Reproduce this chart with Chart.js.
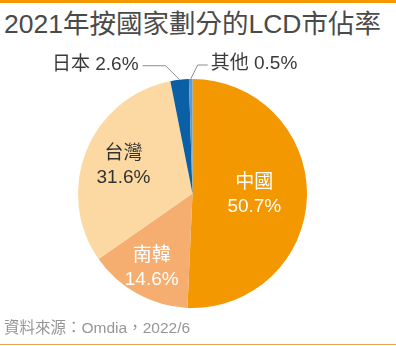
<!DOCTYPE html>
<html>
<head>
<meta charset="utf-8">
<script src="https://cdn.jsdelivr.net/npm/chart.js@4/dist/chart.umd.min.js"></script>
<style>
  html, body { margin: 0; padding: 0; background: #fff; }
  .frame {
    position: relative; width: 396px; height: 346px; overflow: hidden;
    font-family: "Liberation Sans", "Noto Sans CJK TC", sans-serif;
  }
  .topbar { position: absolute; left: 0; top: 0; width: 396px; height: 3px; background: #f39800; }
  .bottombar { position: absolute; left: 0; top: 344px; width: 396px; height: 1px; background: #eba34d; }
  .title {
    position: absolute; left: 4px; top: 11px; margin: 0;
    font-size: 26.5px; line-height: 26px; font-weight: normal; color: #4a4a4a; white-space: nowrap;
  }
  .source {
    position: absolute; left: 4px; top: 320px; margin: 0;
    font-size: 15.5px; line-height: 15px; color: #969696; white-space: nowrap;
  }
  canvas { position: absolute; left: 0; top: 0; }
</style>
</head>
<body>
<div class="frame">
  <div class="topbar"></div>
  <h1 class="title">2021年按國家劃分的LCD市佔率</h1>
  <canvas id="pie" width="396" height="346"></canvas>
  <p class="source">資料來源：Omdia，2022/6</p>
  <div class="bottombar"></div>
</div>
<script>
const countries = ["中國", "南韓", "台灣", "日本", "其他"];
const shares = [50.7, 14.6, 31.6, 2.6, 0.5];
const sliceColors = ["#f39800", "#f5ad70", "#fcd9a2", "#0b5fa5", "#5d9bd6"];

// how each slice gets labelled: inside (radius fraction) or with a leader line
const labelStyles = [
  { inside: true, radius: 0.54, color: "#ffffff" },
  { inside: true, radius: 0.74, color: "#ffffff" },
  { inside: true, radius: 0.65, color: "#333333" },
  { inside: false, dx: -14, dy: -14, run: -23 },
  { inside: false, dx: 7, dy: -14, run: 10 },
];

const FONT = '"Liberation Sans", "Noto Sans CJK TC", sans-serif';

const sliceLabels = {
  id: "sliceLabels",
  afterDatasetsDraw(chart) {
    const { ctx } = chart;
    const arcs = chart.getDatasetMeta(0).data;
    ctx.save();
    arcs.forEach((arc, i) => {
      const p = arc.getProps(["x", "y", "startAngle", "endAngle", "outerRadius"], true);
      const mid = (p.startAngle + p.endAngle) / 2;
      const st = labelStyles[i];
      const pct = shares[i].toFixed(1) + "%";
      if (st.inside) {
        const r = p.outerRadius * st.radius;
        const cx = p.x + Math.cos(mid) * r;
        const cy = p.y + Math.sin(mid) * r;
        ctx.fillStyle = st.color;
        ctx.font = "19px " + FONT;
        ctx.textAlign = "center";
        ctx.textBaseline = "middle";
        ctx.fillText(countries[i], cx, cy - 12);
        ctx.fillText(pct, cx, cy + 12);
      } else {
        const ax = p.x + Math.cos(mid) * p.outerRadius;
        const ay = p.y + Math.sin(mid) * p.outerRadius;
        const ex = ax + st.dx;
        const ey = ay + st.dy;
        const tx = ex + st.run;
        ctx.strokeStyle = "#8c8c8c";
        ctx.lineWidth = 1;
        ctx.beginPath();
        ctx.moveTo(ax, ay);
        ctx.lineTo(ex, ey);
        ctx.lineTo(tx, ey);
        ctx.stroke();
        ctx.fillStyle = "#3a3a3a";
        ctx.font = "19px " + FONT;
        ctx.textBaseline = "middle";
        ctx.textAlign = st.run < 0 ? "right" : "left";
        ctx.fillText(countries[i] + " " + pct, tx + (st.run < 0 ? -4 : 3), ey - 1);
      }
    });
    ctx.restore();
  },
};

new Chart(document.getElementById("pie"), {
  type: "pie",
  data: {
    labels: countries,
    datasets: [{ data: shares, backgroundColor: sliceColors, borderWidth: 0 }],
  },
  options: {
    responsive: false,
    animation: false,
    layout: { padding: { left: 78, top: 79, right: 89, bottom: 38 } },
    plugins: { legend: { display: false }, tooltip: { enabled: false } },
  },
  plugins: [sliceLabels],
});
</script>
</body>
</html>
